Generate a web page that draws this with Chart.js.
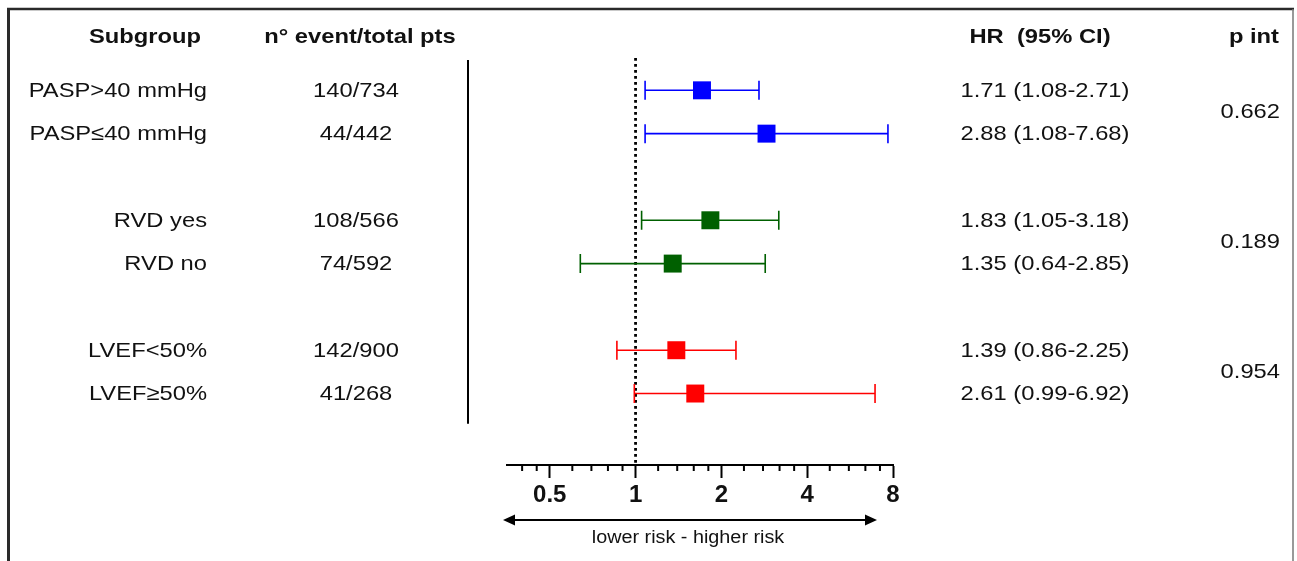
<!DOCTYPE html>
<html>
<head>
<meta charset="utf-8">
<script src="https://cdn.jsdelivr.net/npm/chart.js@4"></script>
<style>
  html, body { margin: 0; padding: 0; background: #fff; }
</style>
</head>
<body>
<canvas id="forest" width="1297" height="561"></canvas>
<script>
// forest plot: HR by subgroup

const subgroups = ['PASP>40 mmHg', 'PASP≤40 mmHg', 'RVD yes', 'RVD no', 'LVEF<50%', 'LVEF≥50%'];
const rows = [0, 1, 3, 4, 6, 7]; // row slots, blank slot between groups
const events = ['140/734', '44/442', '108/566', '74/592', '142/900', '41/268'];
const hr = [1.71, 2.88, 1.83, 1.35, 1.39, 1.62]; // marker position as drawn
const ciLow = [1.08, 1.08, 1.05, 0.64, 0.86, 0.99];
const ciHigh = [2.71, 7.68, 3.18, 2.85, 2.25, 6.92];
const hrText = ['1.71 (1.08-2.71)', '2.88 (1.08-7.68)', '1.83 (1.05-3.18)',
                '1.35 (0.64-2.85)', '1.39 (0.86-2.25)', '2.61 (0.99-6.92)'];
const groupColors = ['#0000ff', '#006000', '#ff0000'];
const pInt = ['0.662', '0.189', '0.954'];

const tickValues = [0.4, 0.45, 0.5, 0.6, 0.7, 0.8, 0.9, 1, 1.2, 1.4, 1.6, 1.8, 2,
                    2.4, 2.8, 3.2, 3.6, 4, 4.8, 5.6, 6.4, 7.2, 8];
const majorTicks = [0.5, 1, 2, 4, 8];

function txt(ctx, s, x, y, align, bold, size, sx) {
  ctx.save();
  ctx.translate(x, y);
  ctx.scale(sx || 1.13, 1);
  ctx.font = (bold ? 'bold ' : '') + (size || 21) + 'px "Liberation Sans", Arial, sans-serif';
  ctx.textAlign = align;
  ctx.textBaseline = 'middle';
  ctx.fillStyle = '#111';
  ctx.fillText(s, 0, 0);
  ctx.restore();
}

const forestPlugin = {
  id: 'forest',
  beforeDraw(chart) {
    const ctx = chart.ctx;
    ctx.save();
    ctx.fillStyle = '#fff';
    ctx.fillRect(0, 0, chart.width, chart.height);
    // frame
    ctx.strokeStyle = '#2a2a2a';
    ctx.lineWidth = 2.5;
    ctx.beginPath(); ctx.moveTo(7, 9); ctx.lineTo(1294, 9); ctx.stroke();
    ctx.lineWidth = 3;
    ctx.beginPath(); ctx.moveTo(8.5, 8); ctx.lineTo(8.5, 561); ctx.stroke();
    ctx.strokeStyle = '#777';
    ctx.lineWidth = 1.5;
    ctx.beginPath(); ctx.moveTo(1293, 9); ctx.lineTo(1293, 561); ctx.stroke();
    ctx.restore();
  },
  beforeDatasetsDraw(chart) {
    const ctx = chart.ctx;
    const xs = chart.scales.x, ys = chart.scales.y;
    const area = chart.chartArea;
    ctx.save();
    // reference line at HR = 1
    const x1 = xs.getPixelForValue(1);
    ctx.strokeStyle = '#000';
    ctx.lineWidth = 2.8;
    ctx.setLineDash([2.8, 3.2]);
    ctx.beginPath(); ctx.moveTo(x1, area.top - 2); ctx.lineTo(x1, area.bottom); ctx.stroke();
    ctx.setLineDash([]);
    // separator line
    ctx.lineWidth = 2;
    const sx = area.left - 39;
    ctx.beginPath(); ctx.moveTo(sx, area.top); ctx.lineTo(sx, ys.getPixelForValue(7.7)); ctx.stroke();
    // confidence intervals
    ctx.lineWidth = 1.6;
    rows.forEach((r, i) => {
      const y = ys.getPixelForValue(r);
      const a = xs.getPixelForValue(ciLow[i]);
      const b = xs.getPixelForValue(ciHigh[i]);
      ctx.strokeStyle = groupColors[Math.floor(i / 2)];
      ctx.beginPath();
      ctx.moveTo(a, y); ctx.lineTo(b, y);
      ctx.moveTo(a, y - 9.5); ctx.lineTo(a, y + 9.5);
      ctx.moveTo(b, y - 9.5); ctx.lineTo(b, y + 9.5);
      ctx.stroke();
    });
    // minor ticks
    ctx.strokeStyle = '#000';
    ctx.lineWidth = 2;
    tickValues.filter(v => !majorTicks.includes(v)).forEach(v => {
      const x = xs.getPixelForValue(v);
      ctx.beginPath(); ctx.moveTo(x, area.bottom); ctx.lineTo(x, area.bottom + 6); ctx.stroke();
    });
    ctx.restore();
  },
  afterDraw(chart) {
    const ctx = chart.ctx;
    const ys = chart.scales.y;
    const area = chart.chartArea;
    // headers
    txt(ctx, 'Subgroup', 145, 37, 'center', true);
    txt(ctx, 'n° event/total pts', 360, 37, 'center', true);
    txt(ctx, 'HR  (95% CI)', 1040, 37, 'center', true);
    txt(ctx, 'p int', 1279, 37, 'right', true);
    rows.forEach((r, i) => {
      const y = ys.getPixelForValue(r) + 1;
      txt(ctx, subgroups[i], 207, y, 'right', false);
      txt(ctx, events[i], 356, y, 'center', false);
      txt(ctx, hrText[i], 1045, y, 'center', false);
    });
    pInt.forEach((p, g) => {
      const y = ys.getPixelForValue((rows[g * 2] + rows[g * 2 + 1]) / 2);
      txt(ctx, p, 1280, y, 'right', false);
    });
    // risk arrow
    ctx.save();
    const ay = area.bottom + 55;
    const ax0 = area.left - 4, ax1 = area.right - 16;
    ctx.strokeStyle = '#000';
    ctx.fillStyle = '#000';
    ctx.lineWidth = 2;
    ctx.beginPath(); ctx.moveTo(ax0 + 8, ay); ctx.lineTo(ax1 - 8, ay); ctx.stroke();
    ctx.beginPath(); ctx.moveTo(ax0, ay); ctx.lineTo(ax0 + 12, ay - 5.5); ctx.lineTo(ax0 + 12, ay + 5.5); ctx.closePath(); ctx.fill();
    ctx.beginPath(); ctx.moveTo(ax1, ay); ctx.lineTo(ax1 - 12, ay - 5.5); ctx.lineTo(ax1 - 12, ay + 5.5); ctx.closePath(); ctx.fill();
    ctx.restore();
    txt(ctx, 'lower risk - higher risk', 688, area.bottom + 73, 'center', false, 18, 1.1);
  }
};

const datasets = [0, 1, 2].map(g => ({
  label: subgroups[g * 2].split(/[><≤≥ ]/)[0],
  data: [0, 1].map(k => ({ x: hr[g * 2 + k], y: rows[g * 2 + k] })),
  backgroundColor: groupColors[g],
  borderWidth: 0,
  pointStyle: 'rect',
  pointRadius: 12.7,
  pointHoverRadius: 12.7
}));

new Chart(document.getElementById('forest'), {
  type: 'scatter',
  data: { datasets },
  options: {
    responsive: false,
    animation: false,
    layout: { padding: { left: 507, right: 404, top: 60, bottom: 0 } },
    plugins: { legend: { display: false }, tooltip: { enabled: false } },
    scales: {
      x: {
        type: 'logarithmic',
        min: 0.354,
        max: 8,
        afterBuildTicks: scale => {
          scale.ticks = tickValues.map(v => ({ value: v, major: majorTicks.includes(v) }));
        },
        afterFit: scale => { scale.height = 96; },
        border: { display: true, color: '#000', width: 2 },
        grid: {
          drawOnChartArea: false,
          tickLength: 13,
          tickWidth: 2,
          tickColor: c => (c.tick && majorTicks.includes(c.tick.value)) ? '#000' : 'rgba(0,0,0,0)'
        },
        ticks: {
          autoSkip: false,
          maxRotation: 0,
          padding: 3,
          color: '#111',
          font: { family: '"Liberation Sans", Arial, sans-serif', size: 24, weight: 'bold' },
          callback: v => majorTicks.includes(v) ? String(v) : ''
        }
      },
      y: {
        type: 'linear',
        reverse: true,
        min: -0.7,
        max: 8.65,
        display: false
      }
    }
  },
  plugins: [forestPlugin]
});
</script>
</body>
</html>
